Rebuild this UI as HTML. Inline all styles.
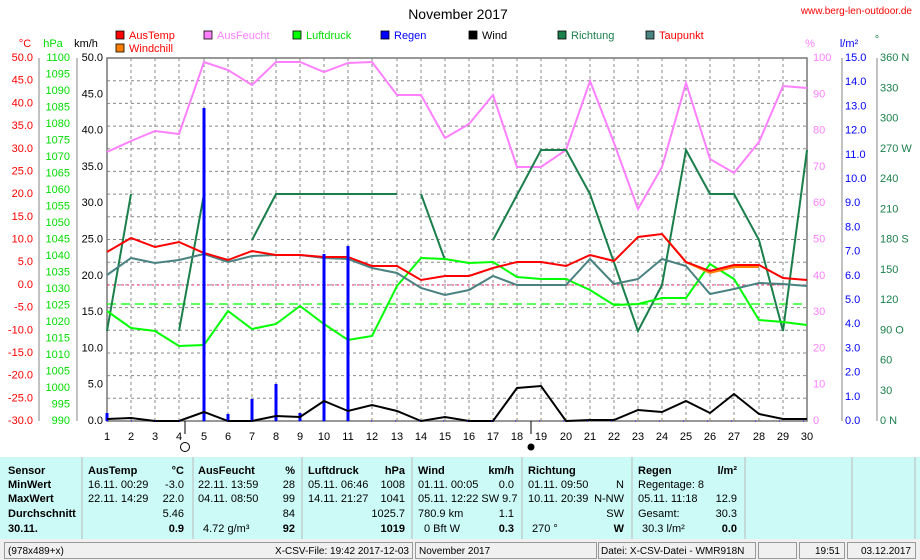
<!DOCTYPE html>
<html><head><meta charset="utf-8"><style>
body{margin:0;background:#fff;}
svg{display:block;font-family:"Liberation Sans",sans-serif;}
</style></head><body>
<svg width="920" height="560" viewBox="0 0 920 560" xmlns="http://www.w3.org/2000/svg" font-size="11">
<rect width="920" height="560" fill="#fff"/>
<text x="458" y="19" text-anchor="middle" font-size="14" fill="#000">November 2017</text>
<text x="912" y="14" text-anchor="end" font-size="10" fill="#ff0000">www.berg-len-outdoor.de</text>
<!-- legend -->
<g font-size="11">
<rect x="116" y="31" width="8" height="8" fill="#ff0000" stroke="#000" stroke-width="0.8"/><text x="129" y="39" fill="#ff0000">AusTemp</text>
<rect x="116" y="44" width="8" height="8" fill="#ff8000" stroke="#000" stroke-width="0.8"/><text x="129" y="52" fill="#ff0000">Windchill</text>
<rect x="204" y="31" width="8" height="8" fill="#ff80ff" stroke="#000" stroke-width="0.8"/><text x="217" y="39" fill="#ff80ff">AusFeucht</text>
<rect x="293" y="31" width="8" height="8" fill="#00ff00" stroke="#000" stroke-width="0.8"/><text x="306" y="39" fill="#00dd00">Luftdruck</text>
<rect x="381" y="31" width="8" height="8" fill="#0000ff" stroke="#000" stroke-width="0.8"/><text x="394" y="39" fill="#0000ff">Regen</text>
<rect x="469" y="31" width="8" height="8" fill="#000" stroke="#000" stroke-width="0.8"/><text x="482" y="39" fill="#000">Wind</text>
<rect x="558" y="31" width="8" height="8" fill="#1a7f4a" stroke="#000" stroke-width="0.8"/><text x="571" y="39" fill="#1a7f4a">Richtung</text>
<rect x="646" y="31" width="8" height="8" fill="#4a8282" stroke="#000" stroke-width="0.8"/><text x="659" y="39" fill="#ff0000">Taupunkt</text>
</g>
<text x="25" y="47" text-anchor="middle" fill="#ff0000">°C</text>
<text x="53" y="47" text-anchor="middle" fill="#00dd00">hPa</text>
<text x="86" y="47" text-anchor="middle" fill="#000">km/h</text>
<text x="810" y="47" text-anchor="middle" fill="#ff80ff">%</text>
<text x="849" y="47" text-anchor="middle" fill="#0000ff">l/m²</text>
<text x="877" y="43" text-anchor="middle" fill="#1a7f4a">°</text>
<!-- axes lines -->
<g stroke="#999" stroke-width="1.2">
<line x1="39" y1="58" x2="39" y2="421"/><line x1="77" y1="58" x2="77" y2="421"/>
<line x1="842" y1="58" x2="842" y2="421"/><line x1="877" y1="58" x2="877" y2="421"/>
</g>
<!-- grid -->
<g stroke="#888" stroke-width="1" stroke-dasharray="3,3">
<line x1="107" y1="80.7" x2="807" y2="80.7"/><line x1="107" y1="103.4" x2="807" y2="103.4"/><line x1="107" y1="126.1" x2="807" y2="126.1"/><line x1="107" y1="148.8" x2="807" y2="148.8"/><line x1="107" y1="171.4" x2="807" y2="171.4"/><line x1="107" y1="194.1" x2="807" y2="194.1"/><line x1="107" y1="216.8" x2="807" y2="216.8"/><line x1="107" y1="239.5" x2="807" y2="239.5"/><line x1="107" y1="262.2" x2="807" y2="262.2"/><line x1="107" y1="284.9" x2="807" y2="284.9"/><line x1="107" y1="307.6" x2="807" y2="307.6"/><line x1="107" y1="330.3" x2="807" y2="330.3"/><line x1="107" y1="353" x2="807" y2="353"/><line x1="107" y1="375.6" x2="807" y2="375.6"/><line x1="107" y1="398.3" x2="807" y2="398.3"/>
<line x1="131" y1="58" x2="131" y2="421"/><line x1="155" y1="58" x2="155" y2="421"/><line x1="179" y1="58" x2="179" y2="421"/><line x1="204" y1="58" x2="204" y2="421"/><line x1="228" y1="58" x2="228" y2="421"/><line x1="252" y1="58" x2="252" y2="421"/><line x1="276" y1="58" x2="276" y2="421"/><line x1="300" y1="58" x2="300" y2="421"/><line x1="324" y1="58" x2="324" y2="421"/><line x1="348" y1="58" x2="348" y2="421"/><line x1="372" y1="58" x2="372" y2="421"/><line x1="397" y1="58" x2="397" y2="421"/><line x1="421" y1="58" x2="421" y2="421"/><line x1="445" y1="58" x2="445" y2="421"/><line x1="469" y1="58" x2="469" y2="421"/><line x1="493" y1="58" x2="493" y2="421"/><line x1="517" y1="58" x2="517" y2="421"/><line x1="541" y1="58" x2="541" y2="421"/><line x1="566" y1="58" x2="566" y2="421"/><line x1="590" y1="58" x2="590" y2="421"/><line x1="614" y1="58" x2="614" y2="421"/><line x1="638" y1="58" x2="638" y2="421"/><line x1="662" y1="58" x2="662" y2="421"/><line x1="686" y1="58" x2="686" y2="421"/><line x1="710" y1="58" x2="710" y2="421"/><line x1="734" y1="58" x2="734" y2="421"/><line x1="759" y1="58" x2="759" y2="421"/><line x1="783" y1="58" x2="783" y2="421"/>
</g>
<rect x="107" y="58" width="700" height="363" fill="none" stroke="#777" stroke-width="1.5"/>
<!-- avg lines -->
<line x1="107" y1="285" x2="807" y2="285" stroke="#ff2060" stroke-width="1" stroke-dasharray="2,3"/>
<line x1="107" y1="304" x2="807" y2="304" stroke="#00ff00" stroke-width="1.2" stroke-dasharray="9,5"/>
<!-- left labels -->
<g fill="#ff0000" text-anchor="end" dominant-baseline="central">
<text x="33" y="58">50.0</text><text x="33" y="80.7">45.0</text><text x="33" y="103.4">40.0</text><text x="33" y="126.1">35.0</text><text x="33" y="148.8">30.0</text><text x="33" y="171.4">25.0</text><text x="33" y="194.1">20.0</text><text x="33" y="216.8">15.0</text><text x="33" y="239.5">10.0</text><text x="33" y="262.2">5.0</text><text x="33" y="284.9">0.0</text><text x="33" y="307.6">-5.0</text><text x="33" y="330.3">-10.0</text><text x="33" y="353">-15.0</text><text x="33" y="375.6">-20.0</text><text x="33" y="398.3">-25.0</text><text x="33" y="421">-30.0</text>
</g>
<g fill="#00dd00" text-anchor="end" dominant-baseline="central">
<text x="70" y="58">1100</text><text x="70" y="74.5">1095</text><text x="70" y="91">1090</text><text x="70" y="107.5">1085</text><text x="70" y="124">1080</text><text x="70" y="140.5">1075</text><text x="70" y="157">1070</text><text x="70" y="173.5">1065</text><text x="70" y="190">1060</text><text x="70" y="206.5">1055</text><text x="70" y="223">1050</text><text x="70" y="239.5">1045</text><text x="70" y="256">1040</text><text x="70" y="272.5">1035</text><text x="70" y="289">1030</text><text x="70" y="305.5">1025</text><text x="70" y="322">1020</text><text x="70" y="338.5">1015</text><text x="70" y="355">1010</text><text x="70" y="371.5">1005</text><text x="70" y="388">1000</text><text x="70" y="404.5">995</text><text x="70" y="421">990</text>
</g>
<g fill="#000" text-anchor="end" dominant-baseline="central">
<text x="103" y="58">50.0</text><text x="103" y="94.3">45.0</text><text x="103" y="130.6">40.0</text><text x="103" y="166.9">35.0</text><text x="103" y="203.2">30.0</text><text x="103" y="239.5">25.0</text><text x="103" y="275.8">20.0</text><text x="103" y="312.1">15.0</text><text x="103" y="348.4">10.0</text><text x="103" y="384.7">5.0</text><text x="103" y="421">0.0</text>
</g>
<!-- right labels -->
<g fill="#ff80ff" dominant-baseline="central">
<text x="813" y="58">100</text><text x="813" y="94.3">90</text><text x="813" y="130.6">80</text><text x="813" y="166.9">70</text><text x="813" y="203.2">60</text><text x="813" y="239.5">50</text><text x="813" y="275.8">40</text><text x="813" y="312.1">30</text><text x="813" y="348.4">20</text><text x="813" y="384.7">10</text><text x="813" y="421">0</text>
</g>
<g fill="#0000ff" dominant-baseline="central">
<text x="845" y="58">15.0</text><text x="845" y="82.2">14.0</text><text x="845" y="106.4">13.0</text><text x="845" y="130.6">12.0</text><text x="845" y="154.8">11.0</text><text x="845" y="179">10.0</text><text x="845" y="203.2">9.0</text><text x="845" y="227.4">8.0</text><text x="845" y="251.6">7.0</text><text x="845" y="275.8">6.0</text><text x="845" y="300">5.0</text><text x="845" y="324.2">4.0</text><text x="845" y="348.4">3.0</text><text x="845" y="372.6">2.0</text><text x="845" y="396.8">1.0</text><text x="845" y="421">0.0</text>
</g>
<g fill="#1a7f4a" dominant-baseline="central">
<text x="880" y="58">360 N</text><text x="880" y="88.25">330</text><text x="880" y="118.5">300</text><text x="880" y="148.75">270 W</text><text x="880" y="179">240</text><text x="880" y="209.25">210</text><text x="880" y="239.5">180 S</text><text x="880" y="269.75">150</text><text x="880" y="300">120</text><text x="880" y="330.25">90  O</text><text x="880" y="360.5">60</text><text x="880" y="390.75">30</text><text x="880" y="421">0    N</text>
</g>
<!-- x labels -->
<g fill="#000" text-anchor="middle">
<text x="107" y="440">1</text><text x="131" y="440">2</text><text x="155" y="440">3</text><text x="179" y="440">4</text><text x="204" y="440">5</text><text x="228" y="440">6</text><text x="252" y="440">7</text><text x="276" y="440">8</text><text x="300" y="440">9</text><text x="324" y="440">10</text><text x="348" y="440">11</text><text x="372" y="440">12</text><text x="397" y="440">13</text><text x="421" y="440">14</text><text x="445" y="440">15</text><text x="469" y="440">16</text><text x="493" y="440">17</text><text x="517" y="440">18</text><text x="541" y="440">19</text><text x="566" y="440">20</text><text x="590" y="440">21</text><text x="614" y="440">22</text><text x="638" y="440">23</text><text x="662" y="440">24</text><text x="686" y="440">25</text><text x="710" y="440">26</text><text x="734" y="440">27</text><text x="759" y="440">28</text><text x="783" y="440">29</text><text x="807" y="440">30</text>
</g>
<line x1="185" y1="421" x2="185" y2="434" stroke="#000"/><circle cx="185" cy="447" r="4.5" fill="none" stroke="#000"/>
<line x1="531" y1="421" x2="531" y2="434" stroke="#000"/><circle cx="531" cy="447" r="3.5" fill="#000"/>
<!-- series -->
<polyline fill="none" stroke="#ff80ff" stroke-width="2" points="107,152 131,141 155,131 179,134 204,62 228,70 252,85 276,62 300,62 324,72 348,63 372,62 397,95 421,95 445,138 469,124 493,95 517,167 541,167 566,150 590,81 614,143 638,209 662,167 686,83 710,159 734,173 759,142 783,86 807,88"/>
<g fill="none" stroke="#1a7f4a" stroke-width="2">
<polyline points="107,331 131,194"/><polyline points="179,331 204,194"/><polyline points="252,240 276,194 397,194"/><polyline points="421,194 445,260"/>
<polyline points="493,240 541,150 566,150 590,194 638,331 662,285 686,150 710,194 734,194 759,240 783,331 807,150"/>
</g>
<polyline fill="none" stroke="#00ff00" stroke-width="2" points="107,311 131,328 155,331 179,346 204,345 228,311 252,329 276,324 300,306 324,324 348,340 372,336 397,286 421,258 445,259 469,263 493,262 517,277 541,279 566,279 590,290 614,305 638,304 662,298 686,298 710,264 734,279 759,320 783,322 807,325"/>
<polyline fill="none" stroke="#4a8282" stroke-width="2" points="107,275 131,258 155,263 179,260 204,254 228,262 252,256 276,255 300,255 324,258 348,259 372,268 397,273 421,288 445,295 469,290 493,276 517,285 541,285 566,285 590,259 614,284 638,279 662,259 686,266 710,294 734,289 759,283 783,284 807,286"/>
<polyline fill="none" stroke="#ff8000" stroke-width="2" points="662,234 686,262 710,273 734,267 759,267"/>
<polyline fill="none" stroke="#ff0000" stroke-width="2" points="107,252 131,238 155,247 179,242 204,253 228,260 252,251 276,255 300,255 324,257 348,257 372,266 397,266 421,280 445,276 469,276 493,268 517,262 541,262 566,266 590,255 614,261 638,237 662,234 686,262 710,271 734,265 759,265 783,278 807,280"/>
<g stroke="#0000ff" stroke-width="3">
<line x1="107" y1="413" x2="107" y2="421"/><line x1="204" y1="108" x2="204" y2="421"/><line x1="228" y1="414" x2="228" y2="421"/><line x1="252" y1="399" x2="252" y2="421"/><line x1="276" y1="384" x2="276" y2="421"/><line x1="300" y1="413" x2="300" y2="421"/><line x1="324" y1="254" x2="324" y2="421"/><line x1="348" y1="246" x2="348" y2="421"/>
</g>
<polyline fill="none" stroke="#000" stroke-width="2" points="107,419 131,418 155,421 179,421 204,412 228,421 252,421 276,416 300,417 324,401 348,411 372,405 397,411 421,421 445,417 469,421 493,421 517,388 541,386 566,421 590,420 614,420 638,410 662,412 686,401 710,413 734,394 759,414 783,419 807,419"/>
<line x1="107" y1="421" x2="807" y2="421" stroke="#0000ff" stroke-width="1" stroke-dasharray="1,23"/>
<!-- table -->
<rect x="0" y="457" width="920" height="82" fill="#ccfaf6"/>
<g stroke="#bbb" stroke-width="1">
<line x1="82" y1="457" x2="82" y2="539"/><line x1="193" y1="457" x2="193" y2="539"/><line x1="302" y1="457" x2="302" y2="539"/><line x1="412" y1="457" x2="412" y2="539"/><line x1="522" y1="457" x2="522" y2="539"/><line x1="632" y1="457" x2="632" y2="539"/><line x1="745" y1="457" x2="745" y2="539"/><line x1="852" y1="457" x2="852" y2="539"/><line x1="915" y1="457" x2="915" y2="539"/>
</g>
<g font-size="11" fill="#000">
<g font-weight="bold"><text x="8" y="474">Sensor</text><text x="8" y="488">MinWert</text><text x="8" y="502">MaxWert</text><text x="8" y="517">Durchschnitt</text><text x="8" y="532">30.11.</text>
<text x="88" y="474">AusTemp</text><text x="184" y="474" text-anchor="end">°C</text>
<text x="198" y="474">AusFeucht</text><text x="295" y="474" text-anchor="end">%</text>
<text x="308" y="474">Luftdruck</text><text x="405" y="474" text-anchor="end">hPa</text>
<text x="418" y="474">Wind</text><text x="514" y="474" text-anchor="end">km/h</text>
<text x="528" y="474">Richtung</text>
<text x="638" y="474">Regen</text><text x="737" y="474" text-anchor="end">l/m²</text>
<text x="184" y="532" text-anchor="end">0.9</text><text x="295" y="532" text-anchor="end">92</text><text x="405" y="532" text-anchor="end">1019</text><text x="514" y="532" text-anchor="end">0.3</text><text x="624" y="532" text-anchor="end">W</text><text x="737" y="532" text-anchor="end">0.0</text>
</g>
<text x="88" y="488">16.11.  00:29</text><text x="184" y="488" text-anchor="end">-3.0</text>
<text x="88" y="502">22.11.  14:29</text><text x="184" y="502" text-anchor="end">22.0</text>
<text x="184" y="517" text-anchor="end">5.46</text>
<text x="198" y="488">22.11.  13:59</text><text x="295" y="488" text-anchor="end">28</text>
<text x="198" y="502">04.11.  08:50</text><text x="295" y="502" text-anchor="end">99</text>
<text x="295" y="517" text-anchor="end">84</text><text x="203" y="532">4.72 g/m³</text>
<text x="308" y="488">05.11.  06:46</text><text x="405" y="488" text-anchor="end">1008</text>
<text x="308" y="502">14.11.  21:27</text><text x="405" y="502" text-anchor="end">1041</text>
<text x="405" y="517" text-anchor="end">1025.7</text>
<text x="418" y="488">01.11.  00:05</text><text x="514" y="488" text-anchor="end">0.0</text>
<text x="418" y="502">05.11.  12:22 SW 9.7</text>
<text x="418" y="517">780.9 km</text><text x="514" y="517" text-anchor="end">1.1</text>
<text x="424" y="532">0 Bft W</text>
<text x="528" y="488">01.11.  09:50</text><text x="624" y="488" text-anchor="end">N</text>
<text x="528" y="502">10.11.  20:39</text><text x="624" y="502" text-anchor="end">N-NW</text>
<text x="624" y="517" text-anchor="end">SW</text><text x="532" y="532">270 °</text>
<text x="638" y="488">Regentage: 8</text>
<text x="638" y="502">05.11.  11:18</text><text x="737" y="502" text-anchor="end">12.9</text>
<text x="638" y="517">Gesamt:</text><text x="737" y="517" text-anchor="end">30.3</text>
<text x="642" y="532">30.3 l/m²</text>
</g>
<!-- status bar -->
<rect x="0" y="539" width="920" height="21" fill="#f0f0f0"/>
<g fill="none" stroke="#999" stroke-width="1">
<rect x="4.5" y="542.5" width="408" height="16"/><rect x="415.5" y="542.5" width="181" height="16"/><rect x="598.5" y="542.5" width="157" height="16"/><rect x="758.5" y="542.5" width="38" height="16"/><rect x="799.5" y="542.5" width="45" height="16"/><rect x="847.5" y="542.5" width="68" height="16"/>
</g>
<g font-size="10" fill="#000">
<text x="8" y="554">(978x489+x)</text><text x="409" y="554" text-anchor="end">X-CSV-File:  19:42  2017-12-03</text>
<text x="419" y="554">November 2017</text><text x="601" y="554">Datei: X-CSV-Datei - WMR918N</text>
<text x="840" y="554" text-anchor="end">19:51</text><text x="911" y="554" text-anchor="end">03.12.2017</text>
</g>
</svg>
</body></html>
